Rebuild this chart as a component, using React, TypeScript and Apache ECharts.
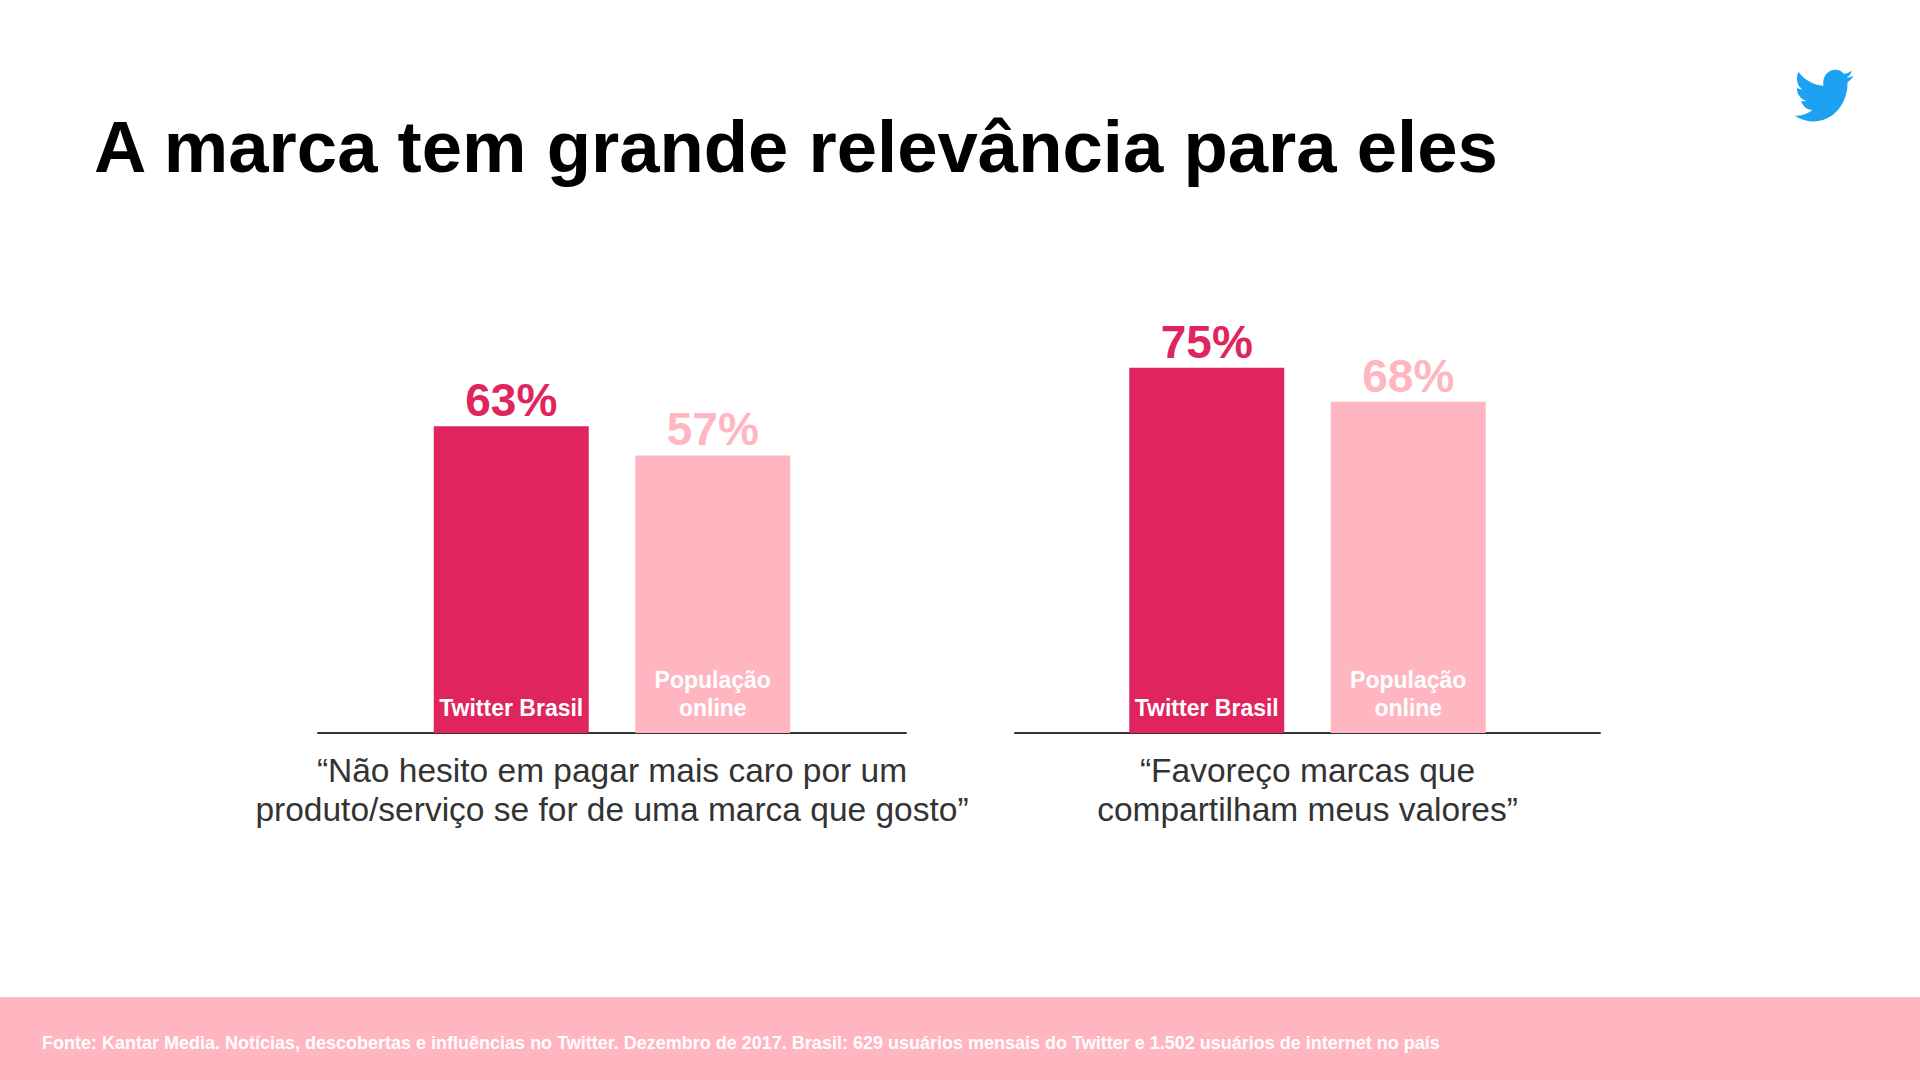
import React, { useEffect, useRef } from "react";
import * as echarts from "echarts";

const FONT = '"Liberation Sans", Arial, Helvetica, sans-serif';

const titleText = "A marca tem grande relevância para eles";
const categories = [
  "“Não hesito em pagar mais caro por um\nproduto/serviço se for de uma marca que gosto”",
  "“Favoreço marcas que\ncompartilham meus valores”",
];
const seriesNames = ["Twitter Brasil", "População online"];
const barLabels = ["Twitter Brasil", "População\nonline"];
const twitterValues = [63, 75];
const populacaoValues = [57, 68];
const seriesColors = ["#E0245E", "#FFB6C1"];
const footerText =
  "Fonte: Kantar Media. Notícias, descobertas e influências no Twitter. Dezembro de 2017. Brasil: 629 usuários mensais do Twitter e 1.502 usuários de internet no país";

const BIRD =
  "M23.643 4.937c-.835.37-1.732.62-2.675.733.962-.576 1.7-1.49 2.048-2.578-.9.534-1.897.922-2.958 1.13-.85-.904-2.06-1.47-3.4-1.47-2.572 0-4.658 2.086-4.658 4.66 0 .364.042.718.12 1.06-3.873-.195-7.304-2.05-9.602-4.868-.4.69-.63 1.49-.63 2.342 0 1.616.823 3.043 2.072 3.878-.764-.025-1.482-.234-2.11-.583v.06c0 2.257 1.605 4.14 3.737 4.568-.392.106-.803.162-1.227.162-.3 0-.593-.028-.877-.082.593 1.85 2.313 3.198 4.352 3.234-1.595 1.25-3.604 1.995-5.786 1.995-.376 0-.747-.022-1.112-.065 2.062 1.323 4.51 2.093 7.14 2.093 8.57 0 13.255-7.098 13.255-13.254 0-.2-.005-.402-.014-.602.91-.658 1.7-1.477 2.323-2.41z";

let registered = false;

export default function App() {
  const ref = useRef<HTMLDivElement>(null);

  useEffect(() => {
    if (!ref.current) return;
    if (!registered) {
      echarts.graphic.registerShape("twitterBird", echarts.graphic.extendPath(BIRD, {}) as any);
      registered = true;
    }
    const chart = echarts.init(ref.current, null, { renderer: "svg" });

    const grids = [
      { left: 318, width: 588, top: 246, height: 487 },
      { left: 1015, width: 585, top: 246, height: 487 },
    ];

    const xAxis: any[] = [];
    const yAxis: any[] = [];
    const series: any[] = [];
    const valueSets = [twitterValues, populacaoValues];

    categories.forEach((cat, i) => {
      xAxis.push({
        type: "category",
        gridIndex: i,
        data: [cat],
        axisLine: { show: true, lineStyle: { color: "#333333", width: 2 } },
        axisTick: { show: false },
        axisLabel: {
          interval: 0,
          margin: 18,
          fontSize: 33.5,
          lineHeight: 39,
          color: "#333333",
          fontFamily: FONT,
          align: "center",
        },
      });
      xAxis.push({
        type: "category",
        gridIndex: i,
        data: [cat],
        show: false,
        position: "bottom",
      });
      yAxis.push({
        type: "value",
        gridIndex: i,
        min: 0,
        max: 100,
        show: false,
        splitLine: { show: false },
      });

      valueSets.forEach((vals, s) => {
        series.push({
          type: "bar",
          name: seriesNames[s],
          xAxisIndex: 2 * i,
          yAxisIndex: i,
          data: [vals[i]],
          barWidth: 155,
          barGap: "30%",
          itemStyle: { color: seriesColors[s] },
          label: {
            show: true,
            position: "top",
            distance: 3,
            formatter: "{c}%",
            fontSize: 46,
            lineHeight: 46,
            fontWeight: "bold",
            fontFamily: FONT,
            color: seriesColors[s],
          },
          silent: true,
        });
      });
      valueSets.forEach((vals, s) => {
        series.push({
          type: "bar",
          name: seriesNames[s] + " rótulo",
          xAxisIndex: 2 * i + 1,
          yAxisIndex: i,
          data: [vals[i]],
          barWidth: 155,
          barGap: "30%",
          z: 5,
          itemStyle: { color: "rgba(0,0,0,0)" },
          label: {
            show: true,
            position: "insideBottom",
            distance: 11,
            formatter: () => barLabels[s],
            fontSize: 23,
            lineHeight: 28,
            fontWeight: "bold",
            fontFamily: FONT,
            color: "#ffffff",
            align: "center",
          },
          silent: true,
        });
      });
    });

    chart.setOption({
      animation: false,
      backgroundColor: "#ffffff",
      title: {
        text: titleText,
        left: 94,
        top: 110,
        padding: 0,
        textStyle: {
          fontSize: 72.5,
          lineHeight: 72,
          fontWeight: "bold",
          color: "#000000",
          fontFamily: FONT,
        },
      },
      grid: grids,
      xAxis,
      yAxis,
      series,
      graphic: [
        {
          type: "rect",
          shape: { x: 0, y: 997, width: 1920, height: 83 },
          style: { fill: "#FFB6C1" },
          silent: true,
        },
        {
          type: "text",
          x: 42,
          y: 1043,
          style: {
            text: footerText,
            fill: "#ffffff",
            font: `bold 18px ${FONT}`,
            verticalAlign: "middle",
          },
          silent: true,
        },
        {
          type: "twitterBird",
          x: 1792,
          y: 62,
          scaleX: 2.6,
          scaleY: 2.8,
          style: { fill: "#1DA1F2" },
          silent: true,
        },
      ],
    });

    return () => chart.dispose();
  }, []);

  return (
    <div
      ref={ref}
      style={{ position: "absolute", left: 0, top: 0, width: 1920, height: 1080 }}
    />
  );
}
